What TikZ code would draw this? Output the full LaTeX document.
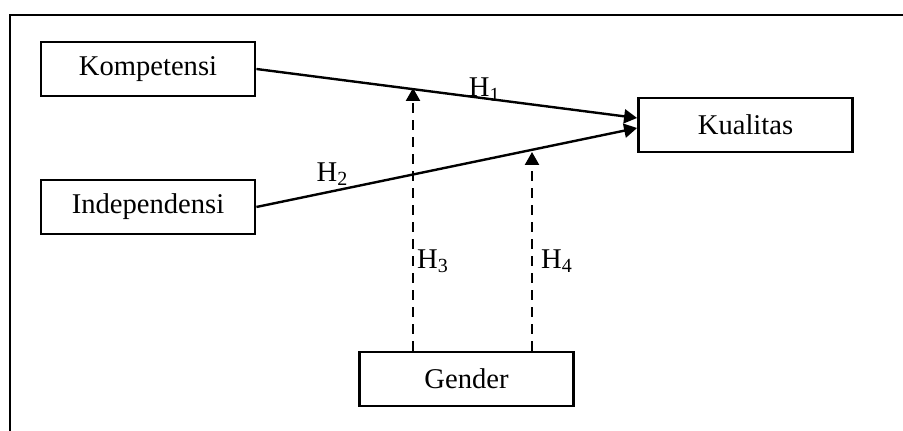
\documentclass[tikz,border=0pt]{standalone}
\usepackage{fontspec}
\setmainfont{Liberation Serif}
\usetikzlibrary{arrows.meta}
\usetikzlibrary{positioning}
\tikzset{
    var/.style={
           rectangle,
           draw=black, line width=1.4pt,
           minimum width=107pt,
           minimum height=27pt,
           inner sep=2pt,
           text centered,
           },
    hyp/.style={
           line width=1.2pt,
           -{Triangle[length=6.5pt,width=7pt]},
           },
    moder/.style={
           hyp,
           dash pattern=on 5pt off 3.5pt,
           },
}

\begin{document}
\begin{tikzpicture}[x=0.5pt,y=-0.5pt,font=\fontsize{14.3}{17}\selectfont]

 % canvas and the open frame (top and left edges only)
 \useasboundingbox (0,0) rectangle (903,431);
 \draw[line width=1.4pt] (10,431) -- (10,15) -- (903,15);

 % independent variables on the left
 \node[var] (Kompetensi) at (148,69) {Kompetensi};
 \node[var,
  below of=Kompetensi,
  node distance=69pt,
  anchor=center] (Independensi)
  {Independensi};

 % dependent variable
 \node[var] (Kualitas) at (745.5,125) {Kualitas};

 % moderating variable
 \node[var] (Gender) at (466.5,379) {Gender};

 % direct effects
 \draw[hyp] (Kompetensi.east) -- node[pos=0.6,anchor=south,yshift=-2pt,inner sep=0pt]{H\textsubscript{1}} ([yshift=3.5pt]Kualitas.west);
 \draw[hyp] (Independensi.east) -- node[pos=0.2,anchor=south,yshift=2pt,inner sep=0pt]{H\textsubscript{2}} ([yshift=-1.5pt]Kualitas.west);

 % moderation arrows ending on the direct paths
 \coordinate (tipA) at (413,88);
 \coordinate (tipB) at (532,152);
 \draw[moder] (Gender.north -| tipA) -- node[pos=0.34,right,inner sep=1.5pt]{H\textsubscript{3}} (tipA);
 \draw[moder] (Gender.north -| tipB) -- node[pos=0.45,right,inner sep=4pt]{H\textsubscript{4}} (tipB);

\end{tikzpicture}
\end{document}
